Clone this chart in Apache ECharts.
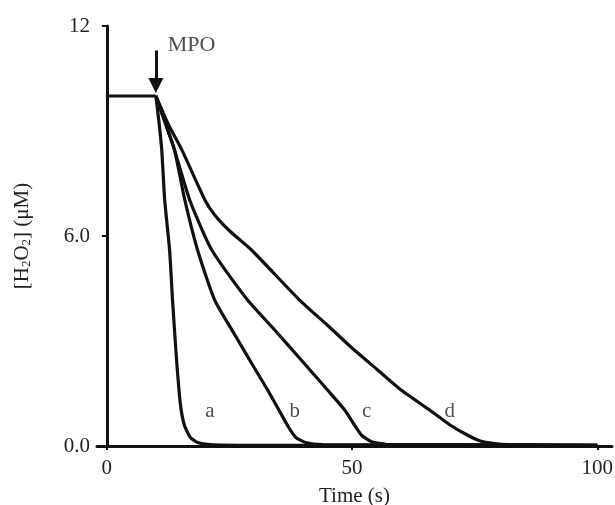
<!DOCTYPE html>
<html><head><meta charset="utf-8">
<script src="https://cdn.jsdelivr.net/npm/echarts@6/dist/echarts.min.js"></script>
<style>html,body{margin:0;padding:0;background:#fff}#c{width:615px;height:505px}</style>
</head><body><div id="c"></div>
<script>
const plateau = [[0,10],[10,10]];
const curveA = [[10,10],[10.6,9.3],[11.2,8.46],[11.8,7.03],[12.8,5.6],[13.4,4.17],[14.2,2.5],[15,1.2],[15.8,0.6],[17,0.25],[18.5,0.1],[21,0.04],[30,0.02],[100,0.02]];
const curveB = [[10,10],[12,9.2],[13.8,8.46],[15.9,7.03],[18.5,5.6],[22,4.17],[26,3.2],[30,2.25],[33,1.55],[35.2,1.0],[37,0.55],[38.5,0.25],[40.5,0.1],[44,0.04],[100,0.02]];
const curveC = [[10,10],[12,9.2],[13.8,8.46],[16.9,7.03],[21.4,5.6],[28.7,4.17],[34,3.35],[40,2.4],[45,1.6],[48.5,1.03],[50.5,0.6],[52,0.3],[54,0.12],[57,0.05],[100,0.02]];
const curveD = [[10,10],[12.5,9.2],[15.3,8.46],[20,7.03],[22,6.6],[25,6.15],[29.5,5.6],[39.3,4.17],[45,3.45],[50,2.8],[55,2.2],[60,1.6],[65.8,1.03],[70,0.6],[73,0.35],[76,0.15],[79,0.07],[82,0.04],[100,0.02]];
const curveLabels = ['a','b','c','d'];
const labelPos = [[21,1.0],[38.3,1.0],[53,1.0],[69.9,1.0]];
const xTicks = [0,50,100];
const yTicks = [0,6,12];
const yTickLabels = ['0.0','6.0','12'];
const arrowFrom = [10,11.3];
const arrowTo = [10,10.3];
const mpoText = 'MPO';
const mpoPos = [12.4,11.46];

const font = '"Liberation Serif","Times New Roman",serif';
const fs = 21;
const lineStyle = {color:'#111', width:3.2};
function curve(d){return {type:'line', data:d, showSymbol:false, symbol:'none', smooth:0.2, lineStyle:lineStyle, itemStyle:{color:'#111'}, silent:true, z:3};}

const chart = echarts.init(document.getElementById('c'));
chart.setOption({
  animation:false,
  backgroundColor:'#fff',
  grid:{left:97, right:3, top:26, bottom:59, containLabel:false, outerBoundsMode:'none'},
  xAxis:{type:'value', min:-2, max:103,
    name:'Time (s)', nameLocation:'middle', nameGap:40,
    nameTextStyle:{fontFamily:font, fontSize:fs, color:'#222'},
    axisLine:{onZero:false, lineStyle:{color:'#111', width:3}},
    axisTick:{show:true, customValues:xTicks, length:4, lineStyle:{color:'#111', width:2}},
    axisLabel:{customValues:xTicks, fontFamily:font, fontSize:fs, color:'#222', margin:12},
    splitLine:{show:false}},
  yAxis:{type:'value', min:0, max:12, interval:6,
    name:'{n|[H}{s|2}{n|O}{s|2}{n|] (μM)}', nameLocation:'middle', nameGap:64, nameRotate:90,
    nameTextStyle:{fontFamily:font, fontSize:fs, color:'#222',
      rich:{n:{fontFamily:font, fontSize:fs, color:'#222'}, s:{fontFamily:font, fontSize:13, color:'#222', padding:[9,0,0,0]}}},
    axisLine:{onZero:true, lineStyle:{color:'#111', width:3}},
    axisTick:{show:true, length:5, lineStyle:{color:'#111', width:2}},
    axisLabel:{fontFamily:font, fontSize:fs, color:'#222', margin:7,
      formatter:function(v){return yTickLabels[yTicks.indexOf(v)];}},
    splitLine:{show:false}},
  series:[
    Object.assign(curve(plateau), {smooth:false, markLine:{silent:true, symbol:['none','triangle'], symbolSize:15, symbolRotate:180,
      lineStyle:{color:'#111', width:3, type:'solid'}, itemStyle:{color:'#111'}, label:{show:false},
      data:[[{coord:arrowFrom},{coord:arrowTo}]]}}),
    curve(curveA), curve(curveB), curve(curveC), curve(curveD),
    {type:'scatter', symbolSize:0, silent:true,
      data:labelPos.map((p,i)=>({value:p, name:curveLabels[i]})),
      label:{show:true, position:'inside', formatter:p=>p.name, fontFamily:font, fontSize:fs, color:'#222'}},
    {type:'scatter', symbolSize:0, silent:true, data:[{value:mpoPos, name:mpoText}],
      label:{show:true, position:'right', distance:0, formatter:p=>p.name, fontFamily:font, fontSize:22, color:'#222'}}
  ]
});
</script></body></html>
